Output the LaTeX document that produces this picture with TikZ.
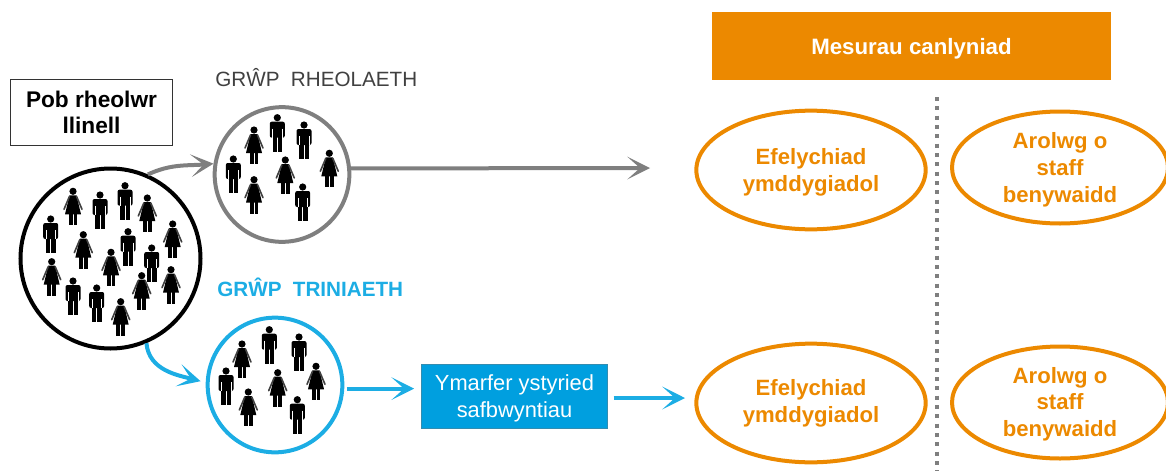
\documentclass[tikz,border=0pt]{standalone}
\usepackage{fontspec}
\setmainfont{Liberation Sans}
\usepackage{tikz}
\usetikzlibrary{shapes,arrows.meta,positioning}

\definecolor{ctlgrey}{HTML}{7F7F7F}
\definecolor{trtblue}{HTML}{1CADE4}
\definecolor{boxblue}{HTML}{009FDF}
\definecolor{outorange}{HTML}{EC8900}

\tikzset{
  man/.pic={
    \fill[black] (0,-15) circle (3.6);
    \fill[black,rounded corners=1.5] (-7.5,-11) rectangle (7.5,5);
    \fill[black] (-4.8,3) rectangle (-0.5,19);
    \fill[black] (0.5,3) rectangle (4.8,19);
    \draw[white,line width=0.35pt] (-4.9,-4) -- (-4.9,5);
    \draw[white,line width=0.35pt] (4.9,-4) -- (4.9,5);
  },
  woman/.pic={
    \fill[black] (0,-16) circle (3.6);
    \fill[black] (-3.5,-12) -- (3.5,-12) -- (8,7) -- (-8,7) -- cycle;
    \draw[black!75,line width=1.2pt,line cap=round] (-3.5,-11) -- (-9,2);
    \draw[black!75,line width=1.2pt,line cap=round] (3.5,-11) -- (9,2);
    \fill[black] (-4.3,6) rectangle (-0.5,18);
    \fill[black] (0.5,6) rectangle (4.3,18);
  },
  group/.style={circle,draw,line width=3pt,inner sep=0pt},
  outcome/.style={ellipse,draw=outorange,line width=3pt,inner sep=0pt,
    text=outorange,font=\bfseries\fontsize{16.6pt}{20pt}\selectfont,align=center},
  flow/.style={line width=3pt,-{Stealth[length=17pt,width=17pt,inset=9.5pt]}},
}

\begin{document}
\begin{tikzpicture}[x=0.75pt,y=-0.75pt]
      \useasboundingbox (0,0) rectangle (1166,471);

      \coordinate (a) at (110.5,258.5);
      \coordinate (r) at (282,174.5);
      \coordinate (t) at (275,385);
      \coordinate (e1) at (811,170);
      \coordinate (s1) at (1060,167.5);
      \coordinate (e2) at (811,403);
      \coordinate (s2) at (1060,402.5);

      \node[group,draw=black,minimum size=135pt] (an) at (a) {};
      \node[group,draw=ctlgrey,minimum size=101pt] (rn) at (r) {};
      \node[group,draw=trtblue,minimum size=101pt] (tn) at (t) {};

      \node[draw=black!80,line width=0.8pt,minimum width=122pt,minimum height=50pt,align=center,
        font=\bfseries\fontsize{17pt}{20pt}\selectfont] (all) at (91.5,112.5) {Pob rheolwr\\llinell};
      \node[text=black!75,font=\fontsize{15.5pt}{18pt}\selectfont,anchor=west,inner sep=0pt] (rlab) at (215,78) {GRŴP\hspace{0.55em}RHEOLAETH};
      \node[text=trtblue,font=\bfseries\fontsize{15.5pt}{18pt}\selectfont,anchor=west,inner sep=0pt] (tlab) at (217,287) {GRŴP\hspace{0.55em}TRINIAETH};

      \node[fill=boxblue,draw=boxblue!70!black!80,line width=0.6pt,text=white,minimum width=140pt,minimum height=48pt,align=center,
        text depth=0pt,font=\fontsize{16.4pt}{20pt}\selectfont] (ex) at (514.5,396) {Ymarfer ystyried\\safbwyntiau};
      \node[fill=outorange,text=white,minimum width=299pt,minimum height=51pt,
        text depth=0pt,font=\bfseries\fontsize{16.7pt}{20pt}\selectfont] (head) at (911.5,46) {Mesurau canlyniad};

      \node[outcome,minimum width=172pt,minimum height=89pt,text depth=0pt] (e1n) at (e1) {Efelychiad\\ymddygiadol};
      \node[outcome,minimum width=162pt,minimum height=84pt,text depth=0pt] (s1n) at (s1) {Arolwg o\\staff\\benywaidd};
      \node[outcome,minimum width=172pt,minimum height=89pt] (e2n) at (e2) {Efelychiad\\ymddygiadol};
      \node[outcome,minimum width=162pt,minimum height=84pt,text depth=1pt] (s2n) at (s2) {Arolwg o\\staff\\benywaidd};

      % people
      \foreach \x/\y in {50.7/234,100/210,125/200.7,128/246.7,151.7/263,73/296,96.7/303,
                         277.3/132.7,304/140,233.3/174,302.7/202,
                         269.3/344.7,299/352,226/386,297.3/414.7}
        \pic at (\x,\y) {man};
      \foreach \x/\y in {73/207.3,147.3/214,172.7/240,83.3/250.7,51.7/277.7,111/268.3,141.7/291.7,171/285.7,120.7/317.7,
                         254/146,329.3/169.3,285.3/176,254/195.7,
                         242/360,316/382.3,277.7/388.7,248.3/408}
        \pic at (\x,\y) {woman};

      % connectors
      \coordinate (rend) at (650,168);
      \coordinate (dtop) at (937,97);
      \coordinate (dbot) at (937,471);
      \coordinate (ya) at (0,398);

      \draw[flow,ctlgrey] (an.66) to[out=25,in=185] (rn.171);
      \draw[flow,ctlgrey] (rn.5) -- (rend);
      \draw[flow,trtblue,shorten >=4pt] (an.-67) to[out=-85,in=165] (tn.178);
      \draw[flow,trtblue,shorten <=2pt,shorten >=5pt] (tn.-3) -- (tn.-3 -| ex.west);
      \draw[flow,trtblue,shorten <=4pt,shorten >=7pt] (ex.east |- ya) -- (e2n.west |- ya);

      \draw[ctlgrey,line width=3pt,dash pattern=on 3pt off 4pt] (dtop) -- (dbot);
\end{tikzpicture}
\end{document}
